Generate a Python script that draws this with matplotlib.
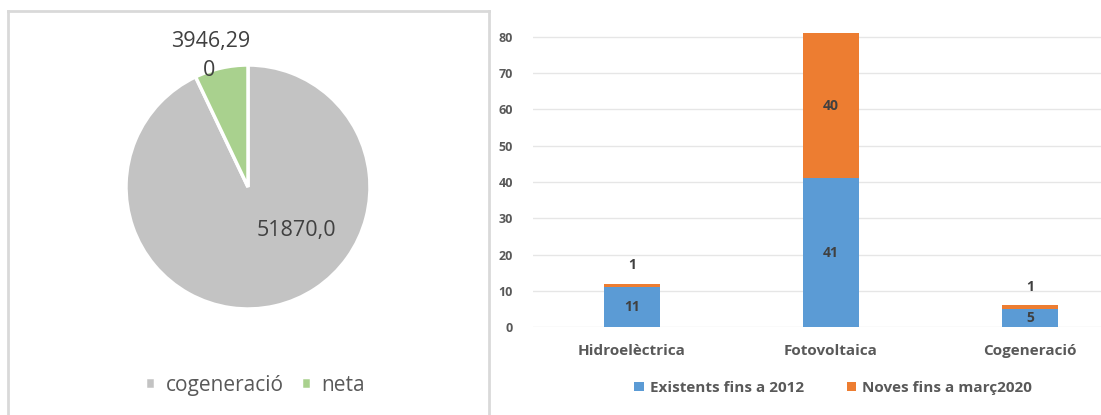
import matplotlib.pyplot as plt
from matplotlib.lines import Line2D

# ===== データ =====
pie_labels = ["cogeneració", "neta"]
pie_values = [51870.0, 3946.29]
pie_texts = ["51870,0", "3946,29\n0"]

categories = ["Hidroelèctrica", "Fotovoltaica", "Cogeneració"]
existents = [11, 41, 5]
noves = [1, 40, 1]
series_names = ["Existents fins a 2012", "Noves fins a març2020"]

W, H = 1101, 415
plt.rcParams['font.family'] = ['Open Sans', 'DejaVu Sans']

fig = plt.figure(figsize=(W / 100, H / 100), dpi=100)

# ===== 左パネルの枠 =====
border = "#d9d9d9"
fig.add_artist(Line2D([8 / W, 8 / W], [0, 1 - 11 / H], color=border, lw=2))
fig.add_artist(Line2D([8 / W, 489 / W], [1 - 11 / H, 1 - 11 / H], color=border, lw=2))
fig.add_artist(Line2D([489 / W, 489 / W], [0, 1 - 11 / H], color=border, lw=2))

# ===== 円グラフ =====
cx, cy, r = 248, 187, 122
ax1 = fig.add_axes([(cx - r) / W, 1 - (cy + r) / H, 2 * r / W, 2 * r / H])
wedges, _ = ax1.pie(pie_values, colors=["#c3c3c3", "#a9d18e"], startangle=90,
                    counterclock=False, radius=1,
                    wedgeprops=dict(edgecolor="white", linewidth=2.5))
ax1.set_xlim(-1, 1)
ax1.set_ylim(-1, 1)
ax1.set_aspect("equal")
ax1.axis("off")

txt = "#404040"
fig.text(296 / W, 1 - 230 / H, pie_texts[0], ha="center", va="center",
         fontsize=15.5, color=txt)
fig.text(211 / W, 1 - 42 / H, pie_texts[1].split("\n")[0], ha="center", va="center",
         fontsize=15.5, color=txt)
fig.text(209 / W, 1 - 71 / H, pie_texts[1].split("\n")[1], ha="center", va="center",
         fontsize=15.5, color=txt)

leg1 = fig.legend(wedges, pie_labels, loc="center", bbox_to_anchor=(255 / W, 1 - 385 / H),
                  ncol=2, frameon=False, fontsize=15, handlelength=0.5, handleheight=0.5,
                  handletextpad=0.5, columnspacing=0.8)
for t in leg1.get_texts():
    t.set_color("#595959")

# ===== 積み上げ棒グラフ =====
px_per = 3.625
y0 = 327
ymax = 85
left = 632 - 99.5
ax2 = fig.add_axes([left / W, 1 - y0 / H, 597 / W, ymax * px_per / H])
x = range(len(categories))
b1 = ax2.bar(x, existents, width=0.28, color="#5b9bd5", label=series_names[0])
b2 = ax2.bar(x, noves, width=0.28, bottom=existents, color="#ed7d31", label=series_names[1])
ax2.set_xlim(-0.5, 2.5)
ax2.set_ylim(0, ymax)
ax2.set_yticks(range(0, 81, 10))
ax2.yaxis.grid(True, color="#e6e6e6", lw=1)
ax2.set_axisbelow(True)
for s in ax2.spines.values():
    s.set_visible(False)
ax2.tick_params(axis="y", length=0, pad=14, labelsize=9, labelcolor="#595959")
ax2.tick_params(axis="x", length=0, pad=12, labelsize=11, labelcolor="#595959")
ax2.set_xticks(list(x))
ax2.set_xticklabels(categories, fontweight="bold")
for lab in ax2.get_yticklabels():
    lab.set_fontweight("bold")

lab_col = "#404040"
for i in x:
    ax2.text(i, existents[i] / 2, str(existents[i]), ha="center", va="center",
             fontsize=10, fontweight="bold", color=lab_col)
    top = existents[i] + noves[i]
    if noves[i] >= 5:
        ax2.text(i, existents[i] + noves[i] / 2, str(noves[i]), ha="center", va="center",
                 fontsize=10, fontweight="bold", color=lab_col)
    else:
        ax2.annotate(str(noves[i]), (i, top), xytext=(0, 8), textcoords="offset points",
                     ha="center", va="bottom", fontsize=10, fontweight="bold", color=lab_col)

leg2 = fig.legend([b1, b2], series_names, loc="center", bbox_to_anchor=(833 / W, 1 - 388 / H),
                  ncol=2, frameon=False, fontsize=11, handlelength=0.6, handleheight=0.6,
                  handletextpad=0.4, columnspacing=2.8)
for t in leg2.get_texts():
    t.set_color("#595959")
    t.set_fontweight("bold")

fig.savefig("out.png", dpi=100)
